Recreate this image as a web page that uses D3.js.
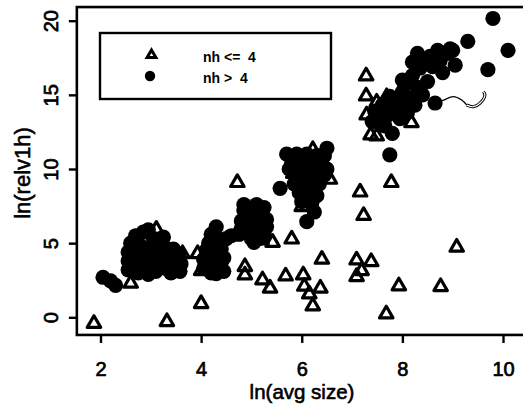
<!DOCTYPE html>
<html>
<head>
<meta charset="utf-8">
<script src="https://cdn.jsdelivr.net/npm/d3@7"></script>
<style>
  html, body { margin: 0; padding: 0; background: #fff; }
  svg { display: block; font-family: "Liberation Sans", Arial, sans-serif; }
</style>
</head>
<body>
<div id="chart"></div>
<script>
// nh <= 4 : open triangles  [ln(avg size), ln(relv1h)]
const lowNh = [
  [1.87, -0.42], [3.32, -0.3], [4.0, 0.92], [2.6, 2.29], [3.11, 5.93], [3.63, 4.29],
  [3.93, 4.29], [4.0, 3.14], [4.87, 3.41], [4.87, 2.85], [4.68, 5.5], [5.2, 5.21],
  [5.42, 5.05], [5.8, 5.27], [4.72, 9.08], [5.22, 2.52], [5.37, 1.96], [5.68, 2.78],
  [6.03, 2.85], [6.05, 2.09], [6.15, 1.57], [6.37, 1.96], [6.22, 0.76], [6.4, 3.91],
  [6.0, 7.46], [6.22, 11.3], [6.56, 9.3], [5.83, 9.7], [7.09, 3.86], [7.38, 3.75],
  [7.19, 3.14], [7.09, 2.74], [7.93, 2.11], [8.76, 2.06], [7.68, 0.22], [9.08, 4.72],
  [7.16, 8.44], [7.23, 6.86], [7.78, 9.08], [8.18, 13.12], [7.28, 16.27], [7.28, 14.92],
  [7.29, 13.64], [7.37, 12.29], [7.49, 12.22], [7.49, 14.5], [7.69, 14.87]
];

// nh > 4 : filled circles
const highNh = [
  // around ln(avg size) 2-3.6
  [2.05, 2.7], [2.2, 2.45], [2.3, 2.15],
  [2.55, 3.2], [2.55, 3.8], [2.55, 4.4], [2.6, 5.0],
  [2.75, 3.0], [2.75, 3.6], [2.7, 4.2], [2.8, 4.8], [2.7, 5.5], [2.85, 5.75],
  [2.95, 2.9], [2.95, 3.5], [2.95, 4.1], [3.0, 4.6], [2.95, 5.9], [3.05, 5.3],
  [3.1, 3.1], [3.15, 3.7], [3.1, 4.3], [3.2, 4.9], [3.25, 5.4],
  [3.3, 3.3], [3.3, 4.0], [3.35, 4.6],
  [3.45, 3.9], [3.45, 4.6], [3.58, 3.1], [3.4, 3.0], [3.55, 4.2], [3.6, 3.6],
  // around 4-4.6
  [4.05, 3.3], [4.05, 3.9], [4.1, 4.5], [4.15, 5.0], [4.2, 5.6], [4.3, 6.1],
  [4.3, 5.4], [4.25, 4.2], [4.3, 3.4], [4.45, 3.1], [4.3, 2.95], [4.4, 3.7],
  [4.2, 3.0], [4.15, 3.7], [4.45, 4.0], [4.4, 4.6],
  [4.5, 5.3], [4.6, 5.5],
  // around 4.7-5.4
  [4.85, 7.6], [5.1, 7.6], [4.95, 7.0], [5.2, 7.0], [4.8, 6.5], [5.05, 6.4],
  [5.3, 6.6], [4.9, 5.9], [5.15, 5.9], [4.75, 5.6], [5.0, 5.3], [5.25, 5.6],
  [5.05, 5.05], [5.25, 7.4], [4.85, 7.2], [5.3, 6.1], [4.8, 6.0], [5.15, 5.3],
  // around 5.6-6.6
  [5.7, 11.0], [5.9, 11.0], [6.1, 11.0], [6.3, 10.9], [6.5, 11.4],
  [5.8, 10.4], [6.0, 10.3], [6.2, 10.4], [6.4, 10.3],
  [5.9, 9.7], [6.1, 9.7], [6.3, 9.8], [6.45, 9.6],
  [5.57, 8.7], [5.85, 9.0], [6.05, 9.0], [6.25, 9.1],
  [5.95, 8.4], [6.15, 8.4], [6.3, 8.2],
  [6.0, 7.8], [6.2, 7.7], [6.25, 7.1], [6.1, 6.45],
  [5.75, 10.0], [6.45, 10.9], [6.5, 10.0], [6.35, 9.0],
  // around 7.4-10
  [7.45, 13.9], [7.6, 14.3], [7.55, 13.2], [7.7, 13.6], [7.8, 12.4], [7.75, 10.95],
  [7.85, 14.0], [7.9, 14.7], [8.0, 15.2], [7.75, 14.9], [8.05, 14.2],
  [8.1, 15.8], [8.2, 16.3], [8.3, 15.5], [8.15, 14.8], [8.35, 16.8],
  [8.3, 17.8], [8.45, 17.4], [8.6, 16.9], [8.55, 17.6], [8.75, 17.3], [8.8, 16.5],
  [8.9, 17.8], [9.0, 18.0], [9.05, 17.0], [8.65, 14.45], [8.5, 15.9],
  [7.4, 13.2], [7.95, 13.4], [8.1, 13.8], [7.65, 12.9], [8.25, 14.3], [8.4, 15.0],
  [8.0, 16.0], [8.2, 17.2], [8.7, 18.0], [8.95, 18.1],
  [9.3, 18.6], [9.8, 20.15], [10.1, 18.0], [9.7, 16.7]
];

// pen mark on the original scan
const squiggle = [
  [8.65, 14.47], [8.82, 14.65], [9.01, 14.88], [9.18, 14.65], [9.28, 14.31],
  [9.41, 14.2], [9.54, 14.43], [9.64, 14.99], [9.61, 15.21]
];

const xTicks = [2, 4, 6, 8, 10];
const yTicks = [0, 5, 10, 15, 20];
const xLim = [1.53, 10.6];
const yLim = [-1.19, 20.92];
const legendLabels = ["nh <=  4", "nh >  4"];

const
  width = 523,
  height = 411,

  x = d3.scaleLinear().domain([2, 10]).range([100.5, 503]),
  y = d3.scaleLinear().domain([0, 20]).range([317.3, 20.7]),

  tri = d3.symbol().type(d3.symbolTriangle).size(78),
  triSmall = d3.symbol().type(d3.symbolTriangle).size(34),

  svg = d3.select("#chart").append("svg")
    .attr("width", width)
    .attr("height", height)
    .attr("viewBox", [0, 0, width, height]);

svg.append("rect")
  .attr("width", width).attr("height", height).attr("fill", "#fff");

// points
svg.append("g")
  .selectAll("path")
  .data(lowNh).enter().append("path")
  .attr("d", tri)
  .attr("transform", d => `translate(${x(d[0])},${y(d[1])})`)
  .attr("fill", "none")
  .attr("stroke", "#000")
  .attr("stroke-width", 3.2)
  .attr("stroke-linejoin", "round");

svg.append("g")
  .selectAll("circle")
  .data(highNh).enter().append("circle")
  .attr("cx", d => x(d[0]))
  .attr("cy", d => y(d[1]))
  .attr("r", 7.6)
  .attr("fill", "#000");

const line = d3.line().x(d => x(d[0])).y(d => y(d[1])).curve(d3.curveCatmullRom);
svg.append("path")
  .attr("d", line(squiggle.slice(0, 5)))
  .attr("fill", "none").attr("stroke", "#000").attr("stroke-width", 1.3);
svg.append("path")
  .attr("d", line(squiggle.slice(4)))
  .attr("fill", "none").attr("stroke", "#000").attr("stroke-width", 3.2);
svg.append("path")
  .attr("d", line(squiggle.slice(4)))
  .attr("fill", "none").attr("stroke", "#fff").attr("stroke-width", 1.2);

// box
svg.append("rect")
  .attr("x", x(xLim[0]))
  .attr("y", y(yLim[1]))
  .attr("width", x(xLim[1]) - x(xLim[0]))
  .attr("height", y(yLim[0]) - y(yLim[1]))
  .attr("fill", "none")
  .attr("stroke", "#000")
  .attr("stroke-width", 2.6);

// axes
const xAxis = svg.append("g")
  .attr("transform", `translate(0,${y(yLim[0])})`)
  .call(d3.axisBottom(x).tickValues(xTicks).tickSize(8).tickSizeOuter(0));
xAxis.select(".domain").remove();
xAxis.selectAll("line").attr("stroke-width", 2.4);
xAxis.selectAll("text")
  .attr("y", 41).attr("dy", null)
  .attr("font-size", 20).attr("fill", "#000")
  .attr("stroke", "#000").attr("stroke-width", 0.7)
  .attr("font-family", "Liberation Sans, Arial, sans-serif");

const yAxis = svg.append("g")
  .attr("transform", `translate(${x(xLim[0])},0)`)
  .call(d3.axisLeft(y).tickValues(yTicks).tickSize(8).tickSizeOuter(0));
yAxis.select(".domain").remove();
yAxis.selectAll("line").attr("stroke-width", 2.4);
yAxis.selectAll("text")
  .attr("x", null).attr("dy", null)
  .attr("transform", "translate(-19,0) rotate(-90)")
  .attr("text-anchor", "middle")
  .attr("font-size", 20).attr("fill", "#000")
  .attr("stroke", "#000").attr("stroke-width", 0.7)
  .attr("font-family", "Liberation Sans, Arial, sans-serif");

// axis titles
svg.append("text")
  .attr("x", 302).attr("y", 399)
  .attr("text-anchor", "middle")
  .attr("font-size", 20.5)
  .attr("stroke", "#000").attr("stroke-width", 0.6)
  .text("ln(avg size)");

svg.append("text")
  .attr("transform", "translate(30,173) rotate(-90)")
  .attr("text-anchor", "middle")
  .attr("font-size", 22)
  .attr("stroke", "#000").attr("stroke-width", 0.6)
  .text("ln(relv1h)");

// legend
const legend = svg.append("g");
legend.append("rect")
  .attr("x", 100).attr("y", 33).attr("width", 231).attr("height", 66)
  .attr("fill", "#fff").attr("stroke", "#000").attr("stroke-width", 2.4);
legend.append("path")
  .attr("d", triSmall)
  .attr("transform", "translate(151.5,55)")
  .attr("fill", "none").attr("stroke", "#000").attr("stroke-width", 3);
legend.append("circle")
  .attr("cx", 150).attr("cy", 76).attr("r", 5.2).attr("fill", "#000");
legend.selectAll("text")
  .data(legendLabels).enter().append("text")
  .attr("x", 203)
  .attr("y", (d, i) => 61.5 + i * 21)
  .attr("font-size", 14)
  .attr("font-weight", "bold")
  .style("white-space", "pre")
  .text(d => d);
</script>
</body>
</html>
